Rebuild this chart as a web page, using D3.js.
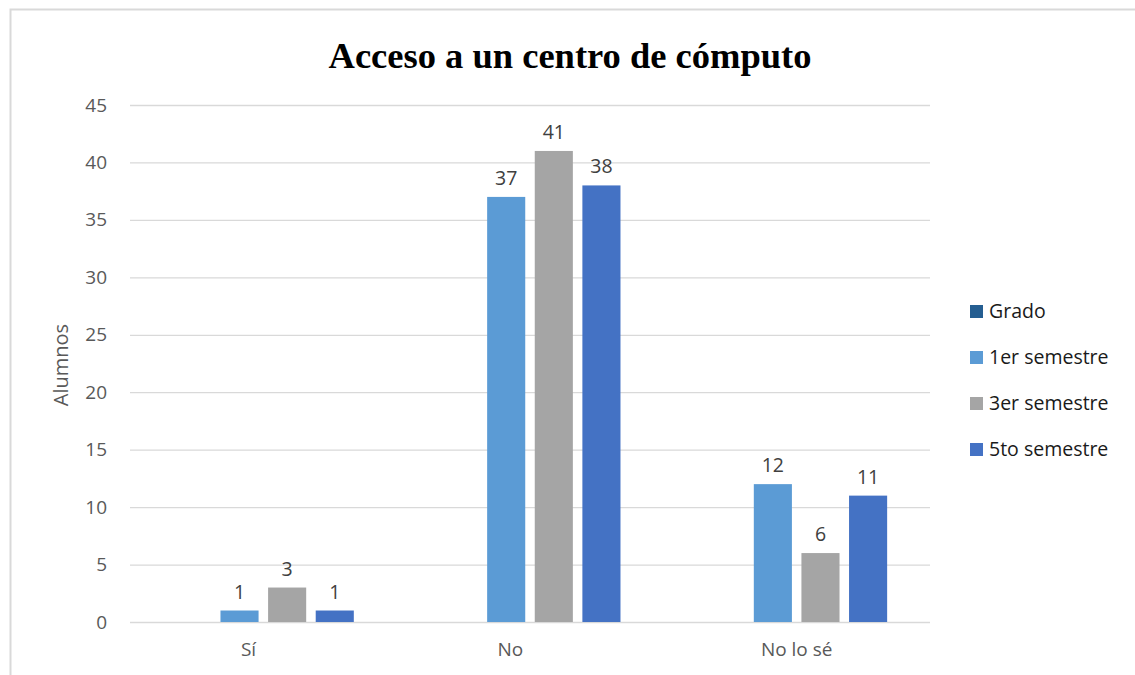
<!DOCTYPE html>
<html>
<meta charset="utf-8">
<head>
<style>
body { margin:0; padding:0; background:#fff; }
svg { display:block; }
.grid line { stroke:#d9d9d9; stroke-width:1.3; }
.tick text { fill:#595959; font-family:"Open Sans", "Noto Sans", sans-serif; font-size:19px; }
</style>
</head>
<body>
<svg></svg>
<script src="https://cdnjs.cloudflare.com/ajax/libs/d3/7.8.5/d3.min.js"></script>
<script>

// data
var categories = ["Sí", "No", "No lo sé"];
var tickLabels = ["Sí\u00a0\u00a0\u00a0\u00a0\u00a0\u00a0", "No\u00a0\u00a0\u00a0\u00a0\u00a0\u00a0\u00a0\u00a0", "No lo sé"];
var seriesNames = ["Grado", "1er semestre", "3er semestre", "5to semestre"];
var grado = [null, null, null];
var sem1 = [1, 37, 12];
var sem3 = [3, 41, 6];
var sem5 = [1, 38, 11];
var yTicks = [0, 5, 10, 15, 20, 25, 30, 35, 40, 45];
var colors = ["#255e91", "#5b9bd5", "#a5a5a5", "#4472c4"];

var allSeries = [grado, sem1, sem3, sem5];

var width = 1135, height = 675;
var svg = d3.select("svg").attr("width", width).attr("height", height);

// chart frame
svg.append("path")
    .attr("d", "M10.5," + height + "V9.5H" + width)
    .attr("fill", "none")
    .attr("stroke", "#d9d9d9")
    .attr("stroke-width", 2);

var plotLeft = 130, plotRight = 930, plotTop = 105, plotBottom = 622;

var x = d3.scaleBand().domain(categories).range([plotLeft, plotRight]);
var xs = d3.scaleBand().domain(seriesNames).range([0, x.bandwidth()]).paddingInner(0.2).paddingOuter(0.9);
var y = d3.scaleLinear().domain([0, 45]).range([plotBottom, plotTop]);

// gridlines + y labels
var yAxis = d3.axisLeft(y).tickValues(yTicks).tickSize(-(plotRight - plotLeft)).tickPadding(23);
var gy = svg.append("g").attr("class", "grid").attr("transform", "translate(" + plotLeft + ",0)").call(yAxis);
gy.select(".domain").remove();

// x labels
var gx = svg.append("g").attr("transform", "translate(0," + plotBottom + ")")
    .call(d3.axisBottom(x).tickSize(0).tickPadding(21).tickFormat(function(d, i) { return tickLabels[i]; }));
gx.select(".domain").remove();
gx.selectAll("text").style("white-space", "pre");

// bars
allSeries.forEach(function(vals, s) {
  var g = svg.append("g");
  categories.forEach(function(c, i) {
    if (vals[i] == null) return;
    var bx = x(c) + xs(seriesNames[s]);
    g.append("rect")
        .attr("x", bx)
        .attr("y", y(vals[i]))
        .attr("width", xs.bandwidth())
        .attr("height", y(0) - y(vals[i]))
        .attr("fill", colors[s]);
    g.append("text")
        .attr("x", bx + xs.bandwidth() / 2)
        .attr("y", y(vals[i]) - 12)
        .attr("text-anchor", "middle")
        .style("font-family", "'Open Sans', 'Noto Sans', sans-serif")
        .style("font-size", "19.5px")
        .style("fill", "#404040")
        .text(vals[i]);
  });
});

// title
svg.append("text")
    .attr("x", 570).attr("y", 68)
    .attr("text-anchor", "middle")
    .style("font-family", "'Liberation Serif', 'Times New Roman', serif")
    .style("font-weight", "bold")
    .style("font-size", "36.5px")
    .style("fill", "#000")
    .text("Acceso a un centro de cómputo");

// y axis title
svg.append("text")
    .attr("transform", "translate(68,365) rotate(-90)")
    .attr("text-anchor", "middle")
    .style("font-family", "'Open Sans', 'Noto Sans', sans-serif")
    .style("font-size", "20px")
    .style("fill", "#595959")
    .text("Alumnos");

// legend
var leg = svg.append("g").attr("transform", "translate(970,311)");
seriesNames.forEach(function(n, i) {
  var row = leg.append("g").attr("transform", "translate(0," + (i * 46) + ")");
  row.append("rect").attr("x", 0).attr("y", -6).attr("width", 13).attr("height", 13).attr("fill", colors[i]);
  row.append("text").attr("x", 19).attr("y", 0).attr("dy", "0.35em")
      .style("font-family", "'Open Sans', 'Noto Sans', sans-serif")
      .style("font-size", "19.5px")
      .style("fill", "#1a1a1a")
      .text(n);
});

</script>
</body>
</html>
